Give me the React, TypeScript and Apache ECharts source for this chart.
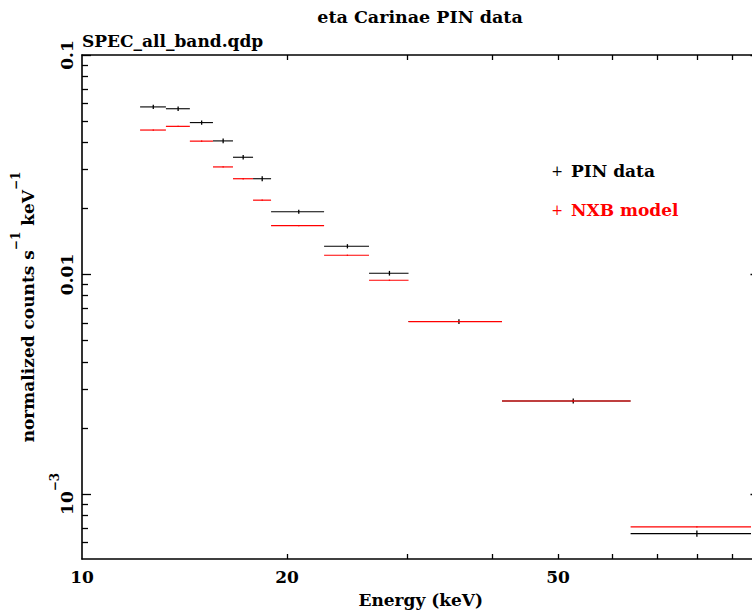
import React, { useEffect, useRef } from "react";
import * as echarts from "echarts";

// Energy bins (keV)
const E_LO = [12.17, 13.28, 14.4, 15.57, 16.66, 17.83, 18.95, 22.67, 26.39, 30.16, 41.37, 63.9];
const E_HI = [13.28, 14.4, 15.57, 16.66, 17.83, 18.95, 22.67, 26.39, 30.16, 41.37, 63.9, 96.0];
// PIN data (normalized counts s^-1 keV^-1)
const PIN = [0.058, 0.0569, 0.0492, 0.0406, 0.0342, 0.0273, 0.0193, 0.01344, 0.01013, 0.0061, 0.00265, 0.000659];
const PIN_ERR = [0.0013, 0.0013, 0.0011, 0.001, 0.0008, 0.0007, 0.0004, 0.0003, 0.00025, 0.00015, 0.00007, 0.000022];
// NXB model
const NXB = [0.0455, 0.0473, 0.0405, 0.0309, 0.0273, 0.0218, 0.01668, 0.01223, 0.00941, 0.00609, 0.00265, 0.000707];
const NXB_ERR = [0.0003, 0.0003, 0.0003, 0.0002, 0.0002, 0.00015, 0.0001, 0.00008, 0.00006, 0.00004, 0.00002, 0.000005];

// Axes
const X_MIN = 10;
const X_MAX = 98.8;
const Y_MIN = 0.000505;
const Y_MAX = 0.1;
const X_TICKS = [20, 30, 40, 50, 60, 70, 80, 90];
const X_LABELS = [10, 20, 50];
const Y_MAJOR = [0.001, 0.01, 0.1];
const Y_MINOR = [0.0006, 0.0007, 0.0008, 0.0009, 0.002, 0.003, 0.004, 0.005, 0.006, 0.007, 0.008, 0.009, 0.02, 0.03, 0.04, 0.05, 0.06, 0.07, 0.08, 0.09];

const FONT = "'DejaVu Serif', serif";
const lg = (v: number) => Math.log10(v);

function buildData(y: number[], err: number[]) {
  return E_LO.map((lo, i) => [
    lg(lo),
    lg(E_HI[i]),
    lg((lo + E_HI[i]) / 2),
    lg(y[i]),
    lg(y[i] - err[i]),
    lg(y[i] + err[i]),
  ]);
}

function makeRender(color: string, width: number) {
  return (params: any, api: any) => {
    const a = api.coord([api.value(0), api.value(3)]);
    const b = api.coord([api.value(1), api.value(3)]);
    const c1 = api.coord([api.value(2), api.value(4)]);
    const c2 = api.coord([api.value(2), api.value(5)]);
    return {
      type: "group",
      children: [
        { type: "line", shape: { x1: a[0], y1: a[1], x2: b[0], y2: b[1] }, style: { stroke: color, lineWidth: width } },
        { type: "line", shape: { x1: c1[0], y1: c1[1], x2: c2[0], y2: c2[1] }, style: { stroke: color, lineWidth: 1.3 } },
      ],
    };
  };
}

const axisLine = { show: true, lineStyle: { color: "#000", width: 1.6 } };

export default function App() {
  const ref = useRef<HTMLDivElement>(null);
  useEffect(() => {
    document.body.style.margin = "0";
    const chart = echarts.init(ref.current!, null, { renderer: "svg" });
    const xRange = { min: lg(X_MIN), max: lg(X_MAX) };
    const yRange = { min: lg(Y_MIN), max: lg(Y_MAX) };
    const rich = {
      b: { fontFamily: FONT, fontWeight: "bold", fontSize: 17, color: "#000", lineHeight: 26, verticalAlign: "bottom" },
      s: { fontFamily: FONT, fontWeight: "bold", fontSize: 12, color: "#000", lineHeight: 26, verticalAlign: "top" },
    };
    const option: any = {
      animation: false,
      backgroundColor: "#fff",
      grid: { left: 82, top: 55, right: -7.5, bottom: 52, containLabel: false, outerBoundsMode: "none" },
      xAxis: [
        {
          type: "value",
          ...xRange,
          position: "bottom",
          axisLine,
          splitLine: { show: false },
          axisTick: { show: true, inside: true, length: 5, lineStyle: { color: "#000", width: 1.3 }, customValues: X_TICKS.map(lg) },
          axisLabel: {
            show: true,
            margin: 9,
            fontFamily: FONT,
            fontWeight: "bold",
            fontSize: 17,
            color: "#000",
            customValues: X_LABELS.map(lg),
            formatter: (v: number) => String(Math.round(Math.pow(10, v))),
          },
          name: "Energy (keV)",
          nameLocation: "middle",
          nameGap: 31,
          nameTextStyle: { fontFamily: FONT, fontWeight: "bold", fontSize: 17, color: "#000", lineHeight: 20 },
        },
        {
          type: "value",
          ...xRange,
          position: "top",
          axisLine,
          splitLine: { show: false },
          axisTick: { show: true, inside: true, length: 5, lineStyle: { color: "#000", width: 1.3 }, customValues: X_TICKS.map(lg) },
          axisLabel: { show: false },
        },
      ],
      yAxis: [
        {
          type: "value",
          ...yRange,
          position: "left",
          axisLine,
          splitLine: { show: false },
          axisTick: { show: true, inside: true, length: 9, lineStyle: { color: "#000", width: 1.3 }, customValues: Y_MAJOR.map(lg) },
          axisLabel: {
            show: true,
            rotate: 90,
            margin: 7,
            customValues: Y_MAJOR.map(lg),
            formatter: (v: number) => {
              const p = Math.round(v);
              return p >= -2 ? `{b|${Math.pow(10, p).toFixed(-p)}}` : `{b|10}{s|−${-p}}`;
            },
            rich,
          },
          name: "{b|normalized counts s}{s|−1}{b| keV}{s|−1}",
          nameLocation: "middle",
          nameRotate: 90,
          nameGap: 46,
          nameTextStyle: { rich },
        },
        {
          type: "value",
          ...yRange,
          position: "left",
          axisLine: { show: false },
          splitLine: { show: false },
          axisTick: { show: true, inside: true, length: 6, lineStyle: { color: "#000", width: 1.3 }, customValues: Y_MINOR.map(lg) },
          axisLabel: { show: false },
        },
        {
          type: "value",
          ...yRange,
          position: "right",
          axisLine,
          splitLine: { show: false },
          axisTick: { show: true, inside: true, length: 9, lineStyle: { color: "#000", width: 1.3 }, customValues: Y_MAJOR.map(lg) },
          axisLabel: { show: false },
        },
        {
          type: "value",
          ...yRange,
          position: "right",
          axisLine: { show: false },
          splitLine: { show: false },
          axisTick: { show: true, inside: true, length: 6, lineStyle: { color: "#000", width: 1.3 }, customValues: Y_MINOR.map(lg) },
          axisLabel: { show: false },
        },
      ],
      series: [
        {
          type: "custom",
          name: "PIN data",
          xAxisIndex: 0,
          yAxisIndex: 0,
          encode: { x: [0, 1, 2], y: [3, 4, 5] },
          data: buildData(PIN, PIN_ERR),
          renderItem: makeRender("#000000", 1.1),
          z: 2,
        },
        {
          type: "custom",
          name: "NXB model",
          xAxisIndex: 0,
          yAxisIndex: 0,
          encode: { x: [0, 1, 2], y: [3, 4, 5] },
          data: buildData(NXB, NXB_ERR),
          renderItem: makeRender("#ff0000", 1.2),
          z: 6,
        },
      ],
      graphic: [
        {
          type: "text",
          x: 420,
          y: 17,
          style: { text: "eta Carinae PIN data", fill: "#000", font: `bold 17.5px ${FONT}`, textAlign: "center", textVerticalAlign: "middle", align: "center", verticalAlign: "middle" },
        },
        {
          type: "text",
          x: 82,
          y: 41,
          style: { text: "SPEC_all_band.qdp", fill: "#000", font: `bold 17px ${FONT}`, textAlign: "left", textVerticalAlign: "middle", align: "left", verticalAlign: "middle" },
        },
        {
          type: "text",
          x: 557,
          y: 171,
          style: { text: "+", fill: "#000", font: `14px ${FONT}`, textAlign: "center", textVerticalAlign: "middle", align: "center", verticalAlign: "middle" },
        },
        {
          type: "text",
          x: 571,
          y: 171,
          style: { text: "PIN data", fill: "#000", font: `bold 17px ${FONT}`, textAlign: "left", textVerticalAlign: "middle", align: "left", verticalAlign: "middle" },
        },
        {
          type: "text",
          x: 557,
          y: 210,
          style: { text: "+", fill: "#ff0000", font: `14px ${FONT}`, textAlign: "center", textVerticalAlign: "middle", align: "center", verticalAlign: "middle" },
        },
        {
          type: "text",
          x: 571,
          y: 210,
          style: { text: "NXB model", fill: "#ff0000", font: `bold 17px ${FONT}`, textAlign: "left", textVerticalAlign: "middle", align: "left", verticalAlign: "middle" },
        },
      ],
    };
    chart.setOption(option);
    return () => chart.dispose();
  }, []);
  return <div ref={ref} style={{ width: 752, height: 611, position: "absolute", left: 0, top: 0 }} />;
}
